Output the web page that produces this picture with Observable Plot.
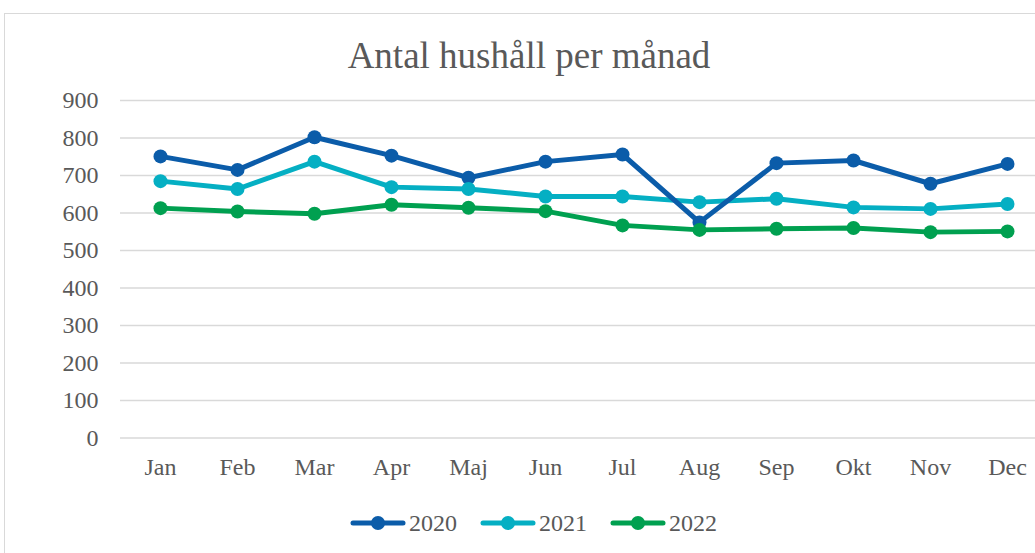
<!DOCTYPE html>
<html>
<head>
<meta charset="utf-8">
<script src="https://cdn.jsdelivr.net/npm/d3@7"></script>
<script src="https://cdn.jsdelivr.net/npm/@observablehq/plot@0.6"></script>
<style>
  html, body { margin: 0; padding: 0; background: #fff; }
  body { width: 1035px; height: 553px; overflow: hidden; position: relative; font-family: "Liberation Serif", "Times New Roman", serif; color: #595959; }
  #frame { position: absolute; left: 4px; top: 13px; width: 1100px; height: 600px; border: 1.5px solid #d9d9d9; box-sizing: border-box; }
  #title { position: absolute; left: 0; top: 37px; width: 1058px; text-align: center; font-size: 37px; line-height: 37px; white-space: nowrap; }
  #chart { position: absolute; left: 0; top: 0; width: 1050px; }
  #chart svg { max-width: none !important; }
  #legend { position: absolute; left: 350px; top: 509px; display: flex; align-items: center; font-size: 24px; line-height: 28px; }
  .item { display: flex; align-items: center; margin-right: 23px; }
  .item svg { margin-right: 3px; }
</style>
</head>
<body>
<div id="frame"></div>
<div id="title">Antal hushåll per månad</div>
<div id="chart"></div>
<div id="legend"></div>
<script>
const months = ["Jan", "Feb", "Mar", "Apr", "Maj", "Jun", "Jul", "Aug", "Sep", "Okt", "Nov", "Dec"];
const years = ["2020", "2021", "2022"];
const v2020 = [751, 715, 802, 753, 694, 737, 756, 575, 733, 740, 678, 731];
const v2021 = [685, 664, 737, 669, 664, 644, 644, 629, 638, 615, 611, 624];
const v2022 = [613, 604, 598, 622, 614, 605, 567, 555, 558, 560, 549, 551];
const yTicks = [0, 100, 200, 300, 400, 500, 600, 700, 800, 900];
const colors = ["#0B5CA9", "#05AFC3", "#00A050"];

const series = [v2020, v2021, v2022];
const data = [];
years.forEach((yr, i) => months.forEach((m, j) => data.push({ year: yr, month: m, value: series[i][j] })));
const lineData = data.slice().reverse();

const chart = Plot.plot({
  width: 1050,
  height: 480,
  marginTop: 100,
  marginBottom: 42.5,
  marginLeft: 120,
  marginRight: 4,
  style: { fontFamily: "'Liberation Serif', 'Times New Roman', serif", fontSize: "24px", color: "#595959", background: "transparent", overflow: "visible", maxWidth: "none" },
  x: { type: "point", domain: months, padding: 0.5, label: null },
  y: { domain: [0, 900], label: null },
  color: { domain: years, range: colors },
  marks: [
    Plot.gridY(yTicks, { stroke: "#d9d9d9", strokeOpacity: 1, strokeWidth: 1.5 }),
    Plot.axisY(yTicks, { tickSize: 0, tickPadding: 22, label: null, fontSize: 24 }),
    Plot.axisX({ tickSize: 0, tickPadding: 20, label: null, fontSize: 24 }),
    Plot.line(lineData, { x: "month", y: "value", z: "year", stroke: "year", strokeWidth: 5, strokeLinejoin: "round", strokeLinecap: "round" }),
    Plot.dot(data, { x: "month", y: "value", fill: "year", r: 7 })
  ]
});
chart.style.maxWidth = "none";
document.getElementById("chart").appendChild(chart);

const legend = document.getElementById("legend");
years.forEach((yr, i) => {
  const item = document.createElement("div");
  item.className = "item";
  item.innerHTML = `<svg width="56" height="16"><line x1="3" y1="8" x2="53" y2="8" stroke="${colors[i]}" stroke-width="5" stroke-linecap="round"/><circle cx="28" cy="8" r="7" fill="${colors[i]}"/></svg><span>${yr}</span>`;
  legend.appendChild(item);
});
</script>
</body>
</html>
